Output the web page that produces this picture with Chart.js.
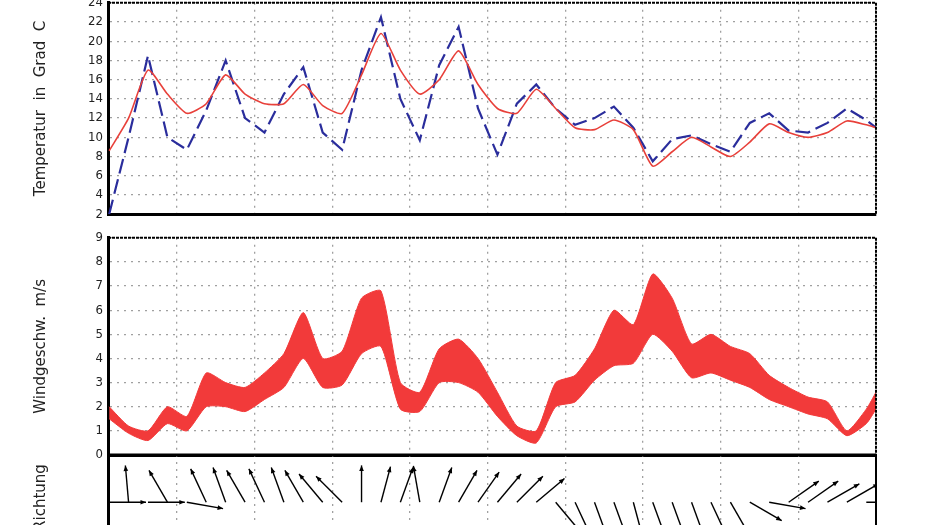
<!DOCTYPE html>
<html><head><meta charset="utf-8">
<script src="https://cdn.jsdelivr.net/npm/chart.js@4"></script>
<style>
html,body{margin:0;padding:0;width:930px;height:525px;overflow:hidden;background:#fff}
.c{position:absolute;left:0;width:930px}
</style></head><body>
<div class="c" style="top:-10px;height:237px"><canvas id="c1"></canvas></div>
<div class="c" style="top:225px;height:245px"><canvas id="c2"></canvas></div>
<div class="c" style="top:445px;height:95px"><canvas id="c3"></canvas></div>
<script>
// x positions in days
const xDays = [-0.875,-0.625,-0.375,-0.125,0.125,0.375,0.625,0.875,1.125,1.375,1.625,1.875,2.125,2.375,2.625,2.875,3.125,3.375,3.625,3.875,4.125,4.375,4.625,4.875,5.125,5.375,5.625,5.875,6.125,6.375,6.625,6.875,7.125,7.375,7.625,7.875,8.125,8.375,8.625,8.875,9.0];
const tempRed = [8.6,12,17,14.5,12.5,13.5,16.5,14.5,13.5,13.5,15.5,13.3,12.5,16.5,20.8,17,14.5,16,19,15.5,13,12.5,15,13,11,10.8,11.8,10.8,7,8.5,10,9,8,9.5,11.4,10.5,10,10.5,11.7,11.3,11];
const tempBlue = [2,10,18.5,10,8.7,12.8,18,12,10.5,14.5,17.3,10.5,8.7,17,22.5,14,9.7,17.5,21.5,13,8.2,13.5,15.5,13,11.3,12,13.2,11,7.5,9.8,10.2,9.3,8.5,11.5,12.5,10.7,10.5,11.5,13,11.8,11];
const windHigh = [2.0,1.2,1.0,2.0,1.6,3.4,3.0,2.8,3.4,4.2,5.9,4.0,4.3,6.5,6.8,3.0,2.6,4.4,4.8,4.0,2.6,1.2,1.0,3.0,3.3,4.4,6.0,5.4,7.5,6.5,4.6,5.0,4.5,4.2,3.3,2.8,2.4,2.2,1.0,1.9,2.6];
const windLow = [1.5,0.9,0.6,1.3,1.0,2.0,2.0,1.8,2.3,2.8,4.0,2.8,2.9,4.2,4.5,1.9,1.8,3.0,3.0,2.6,1.6,0.8,0.5,2.0,2.2,3.1,3.7,3.8,5.0,4.3,3.2,3.4,3.1,2.8,2.3,2.0,1.7,1.5,0.8,1.3,1.9];
const windDir = [90,-5,90,-30,100,-25,-20,-30,-25,-20,-30,-40,-45,0,15,20,-10,20,30,35,40,45,50,140,155,160,160,165,160,160,160,155,150,120,100,55,55,60,60,90,70];
const tempTicks = [2,4,6,8,10,12,14,16,18,20,22,24];
const windTicks = [0,1,2,3,4,5,6,7,8,9];

const FONT = {family:'DejaVu Sans Condensed, Liberation Sans', size:13};
const gridStyle = {color:'#a0a0a0', lineWidth:1.3, drawTicks:false};
function xScale(){
  return {type:'linear', min:-0.89, max:9, ticks:{display:false, stepSize:1},
    grid:{...gridStyle}, border:{display:true,color:'#000',width:3, dash:[2,5]}};
}
function yScale(min,max,ticks,title){
  return {type:'linear', min, max,
    afterFit(s){s.width=108;},
    afterBuildTicks(s){ if(ticks) s.ticks = ticks.map(v=>({value:v})); },
    ticks:{display:!!ticks, color:'#222', font:FONT, padding:5, autoSkip:false},
    grid:{...gridStyle, drawOnChartArea:true},
    border:{display:true,color:'#000',width:3, dash:[2,5]},
    title:{display:true,text:title,color:'#222',font:{family:'DejaVu Sans, Liberation Sans',size:15},padding:{top:32,bottom:0}}};
}
const frame = {id:'frame', afterDraw(c){
  const a=c.chartArea, g=c.ctx; g.save(); g.strokeStyle='#000'; g.lineWidth=2; g.setLineDash([3,1]);
  g.beginPath(); g.moveTo(a.left,a.top); g.lineTo(a.right,a.top); g.lineTo(a.right,a.bottom); g.stroke(); g.restore();
}};
const pts = arr => arr.map((v,i)=>({x:xDays[i], y:v}));
const common = {responsive:true, maintainAspectRatio:false, animation:false,
  plugins:{legend:{display:false}, tooltip:{enabled:false}}};

new Chart(document.getElementById('c1'), {
  type:'line',
  data:{datasets:[
    {data:pts(tempRed), borderColor:'#e8403a', borderWidth:1.6, pointRadius:0, tension:0.2},
    {data:pts(tempBlue), borderColor:'#2a2d9c', borderWidth:2.2, borderDash:[15,6], pointRadius:0, tension:0}
  ]},
  options:{...common, layout:{padding:{top:10,bottom:10,right:54,left:0}},
    scales:{x:xScale(), y:yScale(2,24,tempTicks,'Temperatur  in  Grad  C')}},
  plugins:[frame]
});
new Chart(document.getElementById('c2'), {
  type:'line',
  data:{datasets:[
    {data:pts(windHigh), borderColor:'#f23a3a', backgroundColor:'#f23a3a', borderWidth:1, pointRadius:0, fill:'+1', tension:0.2},
    {data:pts(windLow), borderColor:'#f23a3a', borderWidth:1, pointRadius:0, fill:false, tension:0.2}
  ]},
  options:{...common, layout:{padding:{top:10,bottom:15,right:54,left:0}},
    scales:{x:xScale(), y:yScale(0,9,windTicks,'Windgeschw.  m/s')}},
  plugins:[frame]
});
const arrows = {id:'arrows', afterDatasetsDraw(c){
  const g=c.ctx, xs=c.scales.x, ys=c.scales.y, y0=ys.getPixelForValue(0);
  const L = y0 - ys.getPixelForValue(0.78);
  g.save(); g.strokeStyle='#000'; g.fillStyle='#000'; g.lineWidth=1.4;
  g.beginPath(); g.rect(c.chartArea.left,c.chartArea.top,c.chartArea.width,c.chartArea.height+40); g.clip();
  windDir.forEach((d,i)=>{
    const x0=xs.getPixelForValue(xDays[i]); const r=d*Math.PI/180;
    const x1=x0+L*Math.sin(r), y1=y0-L*Math.cos(r);
    g.beginPath(); g.moveTo(x0,y0); g.lineTo(x1,y1); g.stroke();
    const ang=Math.atan2(y1-y0,x1-x0), h=6;
    g.beginPath(); g.moveTo(x1,y1);
    g.lineTo(x1-h*Math.cos(ang-0.4), y1-h*Math.sin(ang-0.4));
    g.lineTo(x1-h*Math.cos(ang+0.4), y1-h*Math.sin(ang+0.4)); g.closePath(); g.fill();
  });
  g.restore();
}};
const y3 = yScale(-0.8,1,null,'Richtung');
y3.ticks={display:false}; y3.grid={display:false};
new Chart(document.getElementById('c3'), {
  type:'scatter',
  data:{datasets:[{data:[], pointRadius:0}]},
  options:{...common, layout:{padding:{top:10,bottom:0,right:54,left:0}},
    scales:{x:xScale(), y:y3}},
  plugins:[arrows, {id:'top3', afterDraw(c){const a=c.chartArea,g=c.ctx;g.save();g.lineWidth=3;g.beginPath();g.moveTo(a.left,a.top);g.lineTo(a.right,a.top);g.stroke();g.lineWidth=2;g.beginPath();g.moveTo(a.right,a.top);g.lineTo(a.right,a.bottom);g.stroke();g.restore();}}]
});
</script></body></html>
